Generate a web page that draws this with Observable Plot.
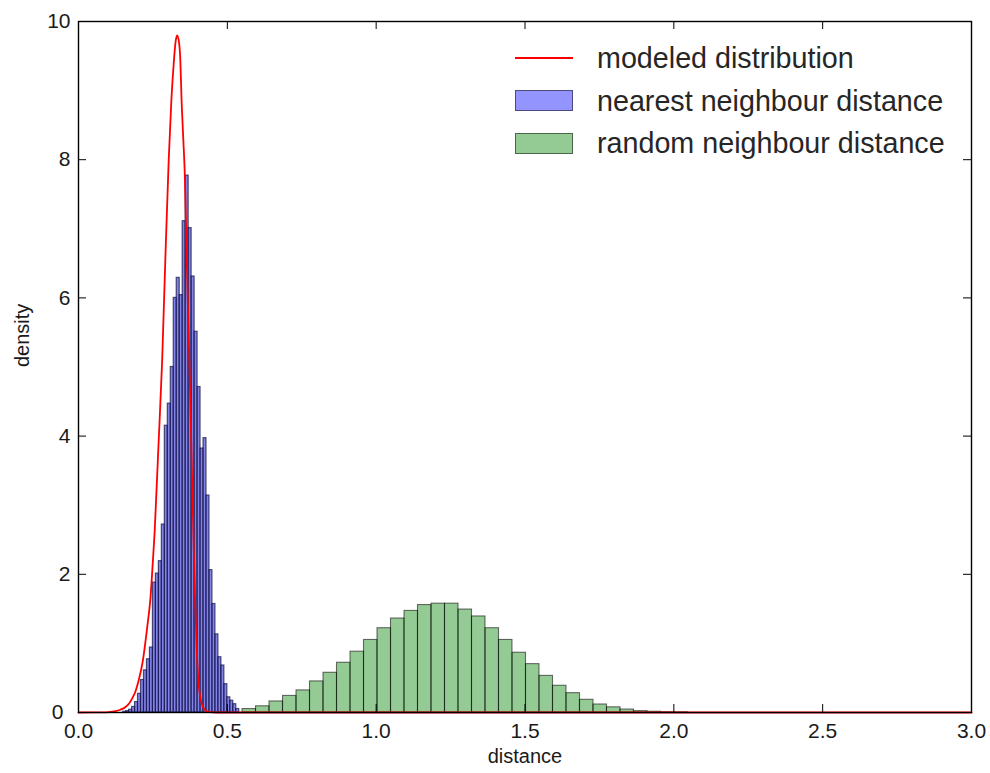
<!DOCTYPE html>
<html><head><meta charset="utf-8">
<script src="https://cdn.jsdelivr.net/npm/d3@7"></script>
<script src="https://cdn.jsdelivr.net/npm/@observablehq/plot@0.6"></script>
<style>
html,body{margin:0;padding:0;background:#fff;}
#chart{position:relative;width:990px;height:773px;font-family:"Liberation Sans",Arial,sans-serif;}
.leg{position:absolute;left:597px;font-size:28.7px;color:#262626;line-height:1;transform:translateY(-50%);white-space:nowrap;}
.sw{position:absolute;left:515px;width:58px;height:21px;box-sizing:border-box;}
.ln{position:absolute;left:515px;width:58px;height:2px;background:#ff0000;}
</style></head><body><div id="chart"></div>
<script>
// ---- data ----
const xTicks = [0, 0.5, 1.0, 1.5, 2.0, 2.5, 3.0];
const yTicks = [0, 2, 4, 6, 8, 10];
const xLabel = "distance";
const yLabel = "density";
const legendLabels = ["modeled distribution", "nearest neighbour distance", "random neighbour distance"];

// nearest neighbour histogram (bins of 0.01 starting at 0.15)
const nearestBinStart = 0.15;
const nearestBinWidth = 0.01;
const nearestDensity = [0.01, 0.02, 0.04, 0.08, 0.15, 0.27, 0.47, 0.61, 0.77, 0.94,
  1.88, 2.01, 2.19, 2.72, 4.15, 4.47, 5.0, 6.0, 6.29, 6.04,
  7.11, 7.77, 7.01, 6.31, 5.51, 4.71, 3.82, 3.97, 3.14, 2.06,
  1.57, 1.13, 0.80, 0.68, 0.41, 0.22, 0.17, 0.12, 0.05];

// random neighbour histogram
const randomBinStart = 0.551;
const randomBinWidth = 0.04535;
const randomDensity = [0.05, 0.09, 0.16, 0.24, 0.32, 0.45, 0.575, 0.72, 0.88, 1.05,
  1.22, 1.36, 1.47, 1.555, 1.575, 1.575, 1.49, 1.39, 1.22, 1.05,
  0.865, 0.70, 0.53, 0.387, 0.28, 0.184, 0.116, 0.075, 0.043, 0.02,
  0.011, 0.005, 0.003];

// modeled distribution curve
const modelX = [0, 0.05, 0.08, 0.10, 0.124, 0.14, 0.158, 0.17, 0.18, 0.191, 0.203, 0.215, 0.231, 0.242, 0.25, 0.256, 0.268, 0.281, 0.292, 0.303, 0.312, 0.32, 0.326, 0.331, 0.337, 0.342, 0.346, 0.352, 0.357, 0.364, 0.372, 0.38, 0.387, 0.392, 0.397, 0.403, 0.41, 0.418, 0.43, 0.443, 0.46, 1.0, 2.0, 3.0];
const modelY = [0, 0.0005, 0.002, 0.006, 0.02, 0.04, 0.08, 0.13, 0.2, 0.3, 0.48, 0.72, 1.24, 1.67, 2.2, 2.63, 3.8, 5.09, 6.6, 7.99, 8.86, 9.4, 9.7, 9.8, 9.72, 9.45, 8.9, 8.3, 7.8, 6.5, 5.15, 3.7, 2.4, 1.6, 0.95, 0.45, 0.2, 0.08, 0.02, 0.005, 0, 0, 0, 0];

// ---- build tables ----
const nearest = nearestDensity.map((h, i) => ({x1: nearestBinStart + i * nearestBinWidth, x2: nearestBinStart + (i + 1) * nearestBinWidth, h}));
const random = randomDensity.map((h, i) => ({x1: randomBinStart + i * randomBinWidth, x2: randomBinStart + (i + 1) * randomBinWidth, h}));
const model = modelX.map((x, i) => ({x, y: modelY[i]}));

const W = 990, H = 773, mL = 78, mR = 19, mT = 21, mB = 61;
const innerW = W - mL - mR, innerH = H - mT - mB;
const tickLen = 8;

const chart = Plot.plot({
  width: W, height: H,
  marginLeft: mL, marginRight: mR, marginTop: mT, marginBottom: mB,
  style: {fontFamily: '"Liberation Sans", Arial, sans-serif', background: "white", color: "#1a1a1a", overflow: "visible"},
  x: {domain: [0, 3], label: null},
  y: {domain: [0, 10], label: null},
  marks: [
    Plot.rectY(random, {x1: "x1", x2: "x2", y: "h", fill: "green", fillOpacity: 0.42, stroke: "black", strokeOpacity: 0.55, strokeWidth: 1.1}),
    Plot.rectY(nearest, {x1: "x1", x2: "x2", y: "h", fill: "#3838d8", fillOpacity: 0.62, stroke: "#101040", strokeOpacity: 0.7, strokeWidth: 1.2}),
    Plot.line(model, {x: "x", y: "y", stroke: "#ff0000", strokeWidth: 1.8, curve: "monotone-x"}),
    Plot.frame({stroke: "black", strokeWidth: 1.4}),
    Plot.tickX(xTicks, {x: d => d, insetTop: innerH - tickLen, stroke: "black", strokeWidth: 1}),
    Plot.tickX(xTicks, {x: d => d, insetBottom: innerH - tickLen, stroke: "black", strokeWidth: 1}),
    Plot.tickY(yTicks, {y: d => d, insetRight: innerW - tickLen, stroke: "black", strokeWidth: 1}),
    Plot.tickY(yTicks, {y: d => d, insetLeft: innerW - tickLen, stroke: "black", strokeWidth: 1}),
    Plot.axisX({ticks: xTicks, tickFormat: d3.format(".1f"), tickSize: 0, tickPadding: 11, fontSize: 21, label: null}),
    Plot.axisY({ticks: yTicks.filter(d => d !== 0), tickFormat: d3.format("d"), tickSize: 0, tickPadding: 8, fontSize: 21, label: null}),
    Plot.axisY({ticks: yTicks.filter(d => d === 0), tickFormat: d3.format("d"), tickSize: 0, tickPadding: 15, fontSize: 21, label: null}),
    Plot.text([xLabel], {text: d => d, frameAnchor: "bottom", dy: 50, fontSize: 20}),
    Plot.text([yLabel], {text: d => d, frameAnchor: "left", dx: -56, rotate: -90, fontSize: 20})
  ]
});

const root = document.getElementById("chart");
root.appendChild(chart);

// legend (inside plot, top right, no frame)
const legendRows = [58, 100.5, 143];
const swatchStyles = [
  null,
  {bg: "rgba(0,0,255,0.42)", border: "rgba(0,0,0,0.5)"},
  {bg: "rgba(0,128,0,0.42)", border: "rgba(0,0,0,0.5)"}
];
legendLabels.forEach((lab, i) => {
  const cy = legendRows[i];
  if (i === 0) {
    const ln = document.createElement("div");
    ln.className = "ln";
    ln.style.top = (cy - 1) + "px";
    root.appendChild(ln);
  } else {
    const sw = document.createElement("div");
    sw.className = "sw";
    sw.style.top = (cy - 10.5) + "px";
    sw.style.background = swatchStyles[i].bg;
    sw.style.border = "1px solid " + swatchStyles[i].border;
    root.appendChild(sw);
  }
  const t = document.createElement("div");
  t.className = "leg";
  t.style.top = cy + "px";
  t.textContent = lab;
  root.appendChild(t);
});
</script></body></html>
